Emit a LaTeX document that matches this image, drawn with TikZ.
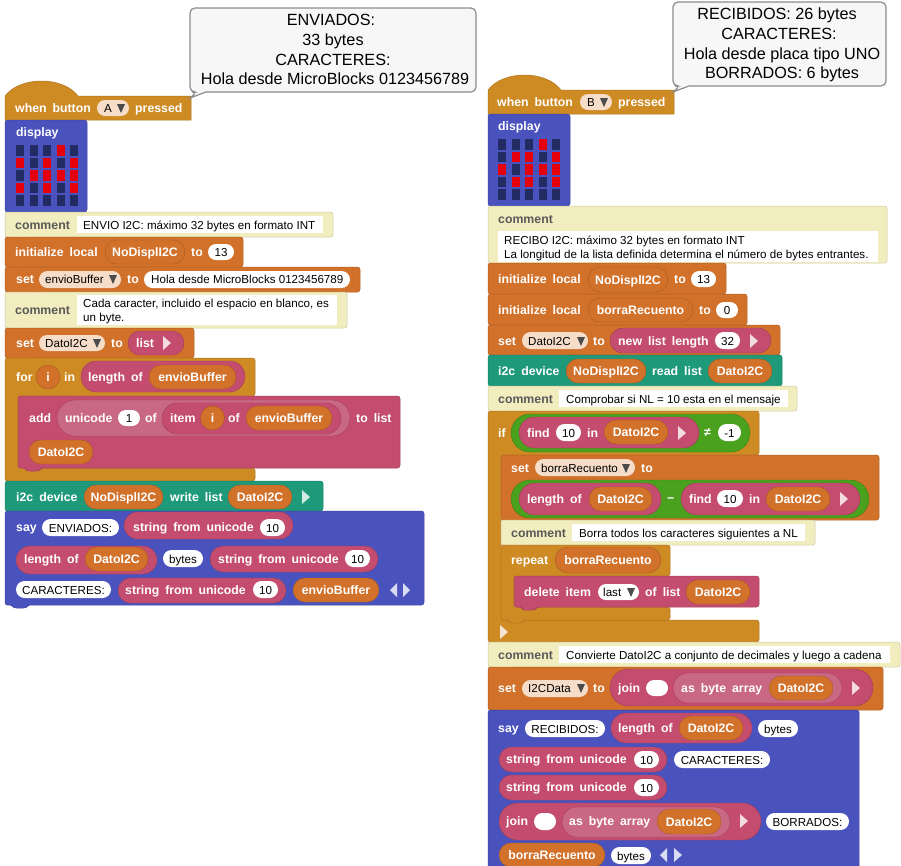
\documentclass[tikz,border=0pt]{standalone}
\usepackage{fontspec}
\setmainfont{Liberation Sans}
\newfontface\blockface{Liberation Sans Bold}[WordSpace=1.75]
\usepackage{tikz}
\usetikzlibrary{shapes.misc}
\definecolor{HatGold}{HTML}{CE8B24}
\definecolor{SayBlue}{HTML}{4A52BE}
\definecolor{NoteCream}{HTML}{F2EDBF}
\definecolor{VarOrange}{HTML}{D1712A}
\definecolor{ListPink}{HTML}{C44C6E}
\definecolor{PalePink}{HTML}{C96884}
\definecolor{BusTeal}{HTML}{1E9A7A}
\definecolor{OpGreen}{HTML}{4AA11E}
\definecolor{LedOff}{HTML}{232B63}
\definecolor{LedOn}{HTML}{E6000A}
\definecolor{DropPeach}{HTML}{F5DDC9}
\tikzset{
  slabline/.style={line width=0.5pt, rounded corners=2.5pt},
  pillbase/.style={rounded rectangle, inner sep=0pt, text height=9pt, text depth=0pt},
  varpill/.style={pillbase, draw=VarOrange!80!black, fill=VarOrange, text=white,
    font=\blockface\fontsize{12.3}{14}\selectfont},
  listpill/.style={pillbase, draw=ListPink!80!black, fill=ListPink},
  palepill/.style={pillbase, draw=ListPink!85!black, fill=PalePink},
  greenpill/.style={pillbase, draw=OpGreen!80!black, fill=OpGreen},
  whitepill/.style={pillbase, fill=white, text=black, font=\fontsize{11.6}{14}\selectfont},
  droppill/.style={pillbase, fill=DropPeach},
  whitebox/.style={rectangle, inner sep=0pt, fill=white},
  lbl/.style={anchor=west, inner sep=0pt, text=white, text height=9pt, text depth=0pt,
    font=\blockface\fontsize{12.3}{14}\selectfont},
  notelbl/.style={lbl, text=black!65},
  plainlbl/.style={anchor=west, inner sep=0pt, text=black, text height=9pt, text depth=0pt,
    font=\fontsize{11.6}{14}\selectfont},
  arrowtri/.style={fill=white, opacity=0.8},
  droptri/.style={fill=black!70},
  bubble/.style={rounded corners=5pt, line width=1.2pt, draw=black!45, fill=black!3},
  bubbletext/.style={inner sep=0pt, text=black, text height=11pt, text depth=0pt,
    font=\fontsize{16.2}{18}\selectfont},
}
% plain stack block, with its bump below: colour, x1, y1, x2, y2
\newcommand{\slab}[5]{%
  \draw[slabline, draw=#1!85!black, fill=#1] (#2,#3) -- (#4,#3) -- (#4,#5)
    -- ({#2+23},#5) -- ({#2+21},{#5+3}) -- ({#2+9},{#5+3}) -- ({#2+7},#5)
    -- (#2,#5) -- cycle;
}
% hat block: x1, y1, x2, y2
\newcommand{\hatslab}[4]{%
  \draw[line width=0.5pt, draw=HatGold!85!black, fill=HatGold]
    (#1,#2) .. controls ({#1+15},{#2-20}) and ({#1+58},{#2-20}) .. ({#1+73},#2)
    -- (#3,#2) -- (#3,#4)
    -- ({#1+23},#4) -- ({#1+21},{#4+3}) -- ({#1+9},{#4+3}) -- ({#1+7},#4)
    -- (#1,#4) -- cycle;
}
% C block: x1, y1, x2, arm bottom, arm x, lower bar top, y2
\newcommand{\cslab}[7]{%
  \draw[slabline, draw=HatGold!85!black, fill=HatGold] (#1,#2) -- (#3,#2) -- (#3,#4)
    -- (#5,#4) -- (#5,#6) -- (#3,#6) -- (#3,#7)
    -- ({#1+23},#7) -- ({#1+21},{#7+3}) -- ({#1+9},{#7+3}) -- ({#1+7},#7)
    -- (#1,#7) -- cycle;
}
% LED grid: x, y, lit cells as col/row
\newcommand{\ledgrid}[3]{%
  \foreach \c in {0,...,4} \foreach \r in {0,...,4}
    \fill[LedOff] ({#1+13.5*\c},{#2+12.55*\r}) rectangle ++(8.2,10.8);
  \foreach \c/\r in {#3}
    \fill[LedOn] ({#1+13.5*\c},{#2+12.55*\r}) rectangle ++(8.2,10.8);
}
\begin{document}
\begin{tikzpicture}[x=1pt,y=-1pt]
  \clip (0,0) rectangle (901,865);
  \fill[white] (0,0) rectangle (901,865);
  % Left stack
  \hatslab{5}{96}{191}{120}
  \slab{SayBlue}{5}{120}{87}{212}
  \ledgrid{16}{145}{3/0,0/1,2/1,4/1,1/2,2/2,3/2,4/2,0/3,2/3,4/3}
  \slab{NoteCream}{5}{212}{333}{237}
  \slab{VarOrange}{5}{237}{243}{267}
  \slab{VarOrange}{5}{267}{360}{292}
  \slab{NoteCream}{5}{292}{347}{328}
  \slab{VarOrange}{5}{328}{194}{358}
  \cslab{5}{358}{255}{396}{18}{468}{481}
  \slab{ListPink}{18}{396}{400}{468}
  \slab{BusTeal}{5}{481}{323}{511}
  \slab{SayBlue}{5}{511}{424}{605}
  % Right stack
  \hatslab{488}{90}{674}{114}
  \slab{SayBlue}{488}{114}{570}{206}
  \ledgrid{498}{139}{3/0,1/1,2/1,4/1,0/2,2/2,3/2,4/2,1/3,2/3,4/3}
  \slab{NoteCream}{488}{206}{887}{263}
  \slab{VarOrange}{488}{263}{726}{294}
  \slab{VarOrange}{488}{294}{747}{325}
  \slab{VarOrange}{488}{325}{780}{355}
  \slab{BusTeal}{488}{355}{782}{386}
  \slab{NoteCream}{488}{386}{797}{411}
  \cslab{488}{411}{759}{455}{501}{620}{642}
  \slab{VarOrange}{501}{455}{879}{520}
  \slab{NoteCream}{501}{520}{815}{545}
  \cslab{501}{545}{670}{576}{514}{607}{620}
  \slab{ListPink}{514}{576}{759}{607}
  \slab{NoteCream}{488}{642}{900}{667}
  \slab{VarOrange}{488}{667}{883}{710}
  \slab{SayBlue}{488}{710}{859}{870}
  % Pills, outer ones before inner ones
  \foreach \sty/\xa/\ya/\xb/\yb/\txt [count=\n] in {%
    droppill/97/100/129/116/{},
    whitebox/77/216/323/233/{},
    varpill/105/240/185/264/NoDisplI2C,
    whitepill/208/244/234/260/13,
    droppill/39/271/121/288/{},
    whitepill/144/271/350/288/{},
    whitebox/77/295/337/325/{},
    droppill/39/335/105/351/{},
    listpill/128/331/184/355/{},
    varpill/38/365/58/389/i,
    listpill/81/361/245/392/{},
    varpill/149/365/236/389/envioBuffer,
    palepill/57/400/350/436/{},
    whitepill/118/410/140/426/1,
    listpill/162/403/341/434/{},
    varpill/203/406/222/430/i,
    varpill/246/406/332/430/envioBuffer,
    varpill/29/440/93/464/DatoI2C,
    varpill/84/485/163/509/NoDisplI2C,
    varpill/228/485/292/509/DatoI2C,
    whitepill/42/519/119/536/ENVIADOS:,
    listpill/124/512/293/539/{},
    whitepill/260/519/285/536/10,
    listpill/16/546/157/574/{},
    varpill/85/547/148/571/DatoI2C,
    whitepill/163/550/203/567/bytes,
    listpill/210/546/378/572/{},
    whitepill/345/550/370/567/10,
    whitepill/16/581/111/598/CARACTERES:,
    listpill/118/578/286/603/{},
    whitepill/253/581/278/598/10,
    varpill/293/578/379/602/envioBuffer%
  }
    \node[\sty, minimum width={(\xb-\xa)*1pt}, minimum height={(\yb-\ya)*1pt}]
      (leftpill\n) at ({(\xa+\xb)/2},{(\ya+\yb)/2}) {\txt};
  \foreach \sty/\xa/\ya/\xb/\yb/\txt [count=\n] in {%
    droppill/580/94/612/110/{},
    whitebox/498/231/878/262/{},
    varpill/588/267/668/292/NoDisplI2C,
    whitepill/691/271/716/287/13,
    varpill/588/298/693/322/borraRecuento,
    whitepill/716/302/738/318/0,
    droppill/522/332/588/349/{},
    listpill/610/328/771/353/{},
    whitepill/715/332/740/349/32,
    varpill/566/359/646/383/NoDisplI2C,
    varpill/708/359/772/383/DatoI2C,
    whitebox/559/390/788/407/{},
    greenpill/511/414/750/452/{},
    listpill/519/417/699/448/{},
    whitepill/556/424/581/441/10,
    varpill/604/420/668/444/DatoI2C,
    whitepill/718/424/741/441/-1,
    droppill/535/459/635/476/{},
    greenpill/511/480/869/518/{},
    listpill/519/483/661/515/{},
    varpill/589/487/652/511/DatoI2C,
    listpill/681/483/860/515/{},
    whitepill/717/490/743/507/10,
    varpill/766/487/830/511/DatoI2C,
    whitebox/572/524/805/541/{},
    varpill/555/547/661/573/borraRecuento,
    whitepill/598/584/639/600/{},
    varpill/686/580/750/604/DatoI2C,
    whitebox/559/646/890/663/{},
    droppill/522/680/588/697/{},
    listpill/610/669/873/706/{},
    whitepill/646/680/668/696/{},
    palepill/673/673/842/703/{},
    varpill/769/676/833/700/DatoI2C,
    whitepill/525/720/605/737/RECIBIDOS:,
    listpill/611/713/752/743/{},
    varpill/679/716/743/740/DatoI2C,
    whitepill/758/720/798/737/bytes,
    listpill/499/747/667/772/{},
    whitepill/634/751/659/768/10,
    whitepill/674/751/770/768/CARACTERES:,
    listpill/499/775/667/800/{},
    whitepill/634/779/659/796/10,
    listpill/499/803/761/840/{},
    whitepill/534/813/556/830/{},
    palepill/562/807/730/837/{},
    varpill/657/809/721/834/DatoI2C,
    whitepill/766/813/849/830/BORRADOS:,
    varpill/499/843/605/867/borraRecuento,
    whitepill/611/847/651/864/bytes%
  }
    \node[\sty, minimum width={(\xb-\xa)*1pt}, minimum height={(\yb-\ya)*1pt}]
      (rightpill\n) at ({(\xa+\xb)/2},{(\ya+\yb)/2}) {\txt};
  % Words on the blocks
  \foreach \sty/\x/\y/\txt [count=\n] in {%
    lbl/15/108/when button, plainlbl/104/108/A, lbl/135/108/pressed,
    lbl/16/132/display,
    notelbl/15/225/comment, plainlbl/83/225/ENVIO I2C: máximo 32 bytes en formato INT,
    lbl/15/252/initialize local, lbl/191/252/to,
    lbl/16/279/set, plainlbl/45/279/envioBuffer, lbl/127/279/to,
    plainlbl/151/279/Hola desde MicroBlocks 0123456789,
    notelbl/15/310/comment, plainlbl/83/303/{Cada caracter, incluido el espacio en blanco, es},
    plainlbl/83/317/un byte.,
    lbl/16/343/set, plainlbl/45/343/DatoI2C, lbl/111/343/to, lbl/136/343/list,
    lbl/16/377/for, lbl/64/377/in, lbl/88/377/length of,
    lbl/29/418/add, lbl/65/418/unicode, lbl/145/418/of, lbl/170/418/item, lbl/228/418/of,
    lbl/356/418/to list,
    lbl/16/497/i2c device, lbl/170/497/write list,
    lbl/16/527/say, lbl/133/527/string from unicode,
    lbl/24/559/length of, lbl/218/559/string from unicode,
    lbl/125/590/string from unicode%
  }
    \node[\sty] (leftword\n) at (\x,\y) {\txt};
  \foreach \sty/\x/\y/\txt [count=\n] in {%
    lbl/497/102/when button, plainlbl/587/102/B, lbl/618/102/pressed,
    lbl/498/126/display,
    notelbl/498/219/comment, plainlbl/504/240/RECIBO I2C: máximo 32 bytes en formato INT,
    plainlbl/504/254/La longitud de la lista definida determina el número de bytes entrantes.,
    lbl/498/279/initialize local, lbl/674/279/to,
    lbl/498/310/initialize local, lbl/699/310/to,
    lbl/498/341/set, plainlbl/528/341/DatoI2C, lbl/593/341/to, lbl/618/341/new list length,
    lbl/498/371/i2c device, lbl/652/371/read list,
    notelbl/498/399/comment, plainlbl/566/399/Comprobar si NL = 10 esta en el mensaje,
    lbl/498/433/if, lbl/527/433/find, lbl/587/433/in, lbl/704/432/≠,
    lbl/511/468/set, plainlbl/541/468/borraRecuento, lbl/641/468/to,
    lbl/527/499/length of, lbl/667/498/−, lbl/689/499/find, lbl/749/499/in,
    notelbl/511/533/comment, plainlbl/579/533/Borra todos los caracteres siguientes a NL,
    lbl/511/560/repeat,
    lbl/524/592/delete item, plainlbl/603/592/last, lbl/645/592/of list,
    notelbl/498/655/comment,
    plainlbl/566/655/Convierte DatoI2C a conjunto de decimales y luego a cadena,
    lbl/498/688/set, plainlbl/528/688/I2CData, lbl/593/688/to, lbl/618/688/join,
    lbl/681/688/as byte array,
    lbl/498/728/say, lbl/618/728/length of,
    lbl/506/759/string from unicode, lbl/506/787/string from unicode,
    lbl/506/821/join, lbl/569/821/as byte array%
  }
    \node[\sty] (rightword\n) at (\x,\y) {\txt};
  % Pointing triangles and drop-down marks
  \foreach \xa/\xb/\y in {163/171/343, 302/310/497, 397/390/590, 403/410/590,
    750/758/341, 678/686/433, 840/848/499, 500/508/632, 852/860/688, 740/748/821,
    667/660/855, 674/682/855}
    \fill[arrowtri] (\xa,\y-7) -- (\xb,\y) -- (\xa,\y+7) -- cycle;
  \foreach \x/\y in {121/108, 113/279, 97/343, 604/102, 581/341, 626/468, 631/592, 581/688}
    \fill[droptri] (\x-4,\y-4) -- (\x+4,\y-4) -- (\x,\y+5) -- cycle;
  % Speech bubbles
  \draw[bubble] (206,92) -- (476,92) -- (476,8) -- (190,8) -- (190,92) -- (197,92)
    [sharp corners] -- (190,98) -- cycle;
  \foreach \x/\y/\txt [count=\n] in {331/20/ENVIADOS:, 333/40/33 bytes, 333/60/CARACTERES:,
    335/79/Hola desde MicroBlocks 0123456789}
    \node[bubbletext] (leftsay\n) at (\x,\y) {\txt};
  \draw[bubble] (689,86) -- (886,86) -- (886,2) -- (673,2) -- (673,86) -- (680,86)
    [sharp corners] -- (673,92) -- cycle;
  \foreach \x/\y/\txt [count=\n] in {777/14/RECIBIDOS: 26 bytes, 779/34/CARACTERES:,
    782/54/Hola desde placa tipo UNO, 782/73/BORRADOS: 6 bytes}
    \node[bubbletext] (rightsay\n) at (\x,\y) {\txt};
\end{tikzpicture}
\end{document}
